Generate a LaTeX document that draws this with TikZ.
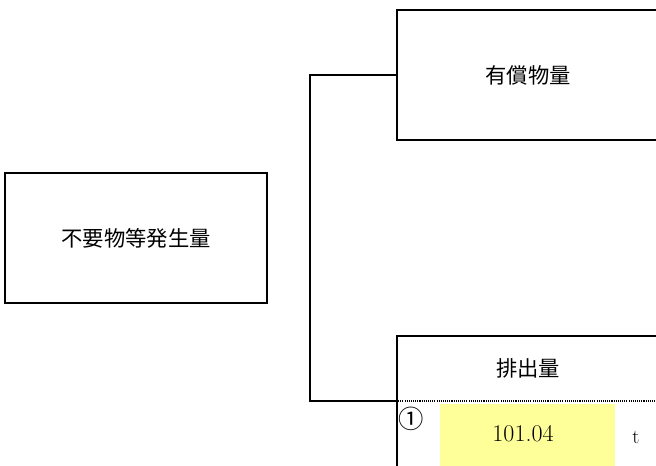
\documentclass[tikz,border=0pt]{standalone}
\usepackage{fontspec}
\newfontfamily\jpfont{Noto Sans CJK JP}
\usetikzlibrary{positioning}
\definecolor{valyellow}{HTML}{FFFF99}

\begin{document}
\begin{tikzpicture}[x=0.75pt, y=-0.75pt,
    box/.style={draw, line width=1.5pt, minimum width=196.5pt, minimum height=97.5pt, inner sep=0pt},
    jp/.style={font=\jpfont\fontsize{16}{16}\selectfont},
    conn/.style={line width=1.5pt}]
    \useasboundingbox (0,0) rectangle (656,465);
    \clip (0,0) rectangle (656,465);

    % Boxes
    \node[box, jp] (total) at (136,238) {不要物等発生量};
    \node[box, jp] (yushou) at (528,75) {有償物量};
    \node[box, minimum height=120pt] (outbox) at (528,416) {};
    \node[jp] (outtitle) at (528,368.5) {排出量};
    \coordinate (outrow) at (outbox.west |- 0,401);

    % Value row of the output box
    \draw[line width=0.8pt, dash pattern=on 0.8pt off 0.8pt] (outrow) -- (outbox.east |- outrow);
    \node[fill=valyellow, minimum width=131.25pt, minimum height=47pt, inner sep=0pt] (amount) at (527.5,435) {};
    \node[font=\fontsize{18}{18}\selectfont] (amountval) at (523,434) {101.04};
    \node[font=\fontsize{15}{15}\selectfont] (unit) at (636,437) {t};
    \node[font=\jpfont\fontsize{19}{19}\selectfont] (num) at (411,419) {①};

    % Bracket joining the two outputs
    \draw[conn] (yushou.west) -- ++(-86,0) |- (outrow);
\end{tikzpicture}
\end{document}
